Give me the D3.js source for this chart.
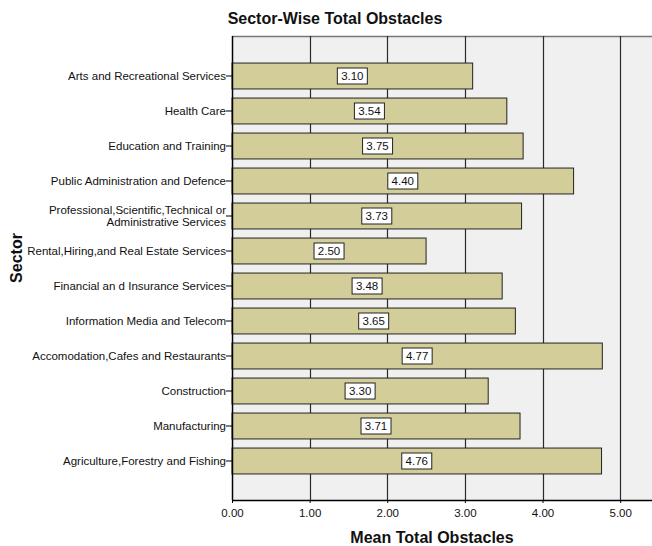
<!DOCTYPE html>
<html>
<head>
<meta charset="utf-8">
<script src="https://cdn.jsdelivr.net/npm/d3@7"></script>
<style>
  body { margin: 0; background: #fff; }
  text { font-family: "Liberation Sans", Arial, sans-serif; }
</style>
</head>
<body>
<div id="container"></div>
<script>
// data
var sectors = [
  "Arts and Recreational Services",
  "Health Care",
  "Education and Training",
  "Public Administration and Defence",
  "Professional,Scientific,Technical or|Administrative Services",
  "Rental,Hiring,and Real Estate Services",
  "Financial an d Insurance Services",
  "Information Media and Telecom",
  "Accomodation,Cafes and Restaurants",
  "Construction",
  "Manufacturing",
  "Agriculture,Forestry and Fishing"
];
var meanObstacles = [3.10, 3.54, 3.75, 4.40, 3.73, 2.50, 3.48, 3.65, 4.77, 3.30, 3.71, 4.76];
var xTicks = [0, 1, 2, 3, 4, 5];

var W = 652, H = 546;
var plot = {left: 232, top: 36, right: 652, bottom: 500};

var svg = d3.select("div#container").append("svg").attr("width", W).attr("height", H);

var x = d3.scaleLinear().domain([0, 5.41]).range([plot.left, plot.right]);
var y = d3.scaleBand().domain(sectors).range([58.5, 478.5]).paddingInner(0.26).paddingOuter(0.13);

// plot background
svg.append("rect")
  .attr("x", plot.left).attr("y", plot.top)
  .attr("width", plot.right - plot.left).attr("height", plot.bottom - plot.top)
  .attr("fill", "#f0f0f0");

// top border
svg.append("line")
  .attr("x1", plot.left).attr("x2", plot.right)
  .attr("y1", plot.top + 0.5).attr("y2", plot.top + 0.5)
  .attr("stroke", "#777").attr("stroke-width", 1.5);

// vertical grid lines
svg.append("g").selectAll("line").data(xTicks.slice(1)).join("line")
  .attr("x1", function(d) { return Math.round(x(d)) + 0.5; })
  .attr("x2", function(d) { return Math.round(x(d)) + 0.5; })
  .attr("y1", plot.top).attr("y2", plot.bottom)
  .attr("stroke", "#2a2a2a").attr("stroke-width", 1.2);

// bars
var bars = svg.append("g").selectAll("g").data(sectors).join("g");
bars.append("rect")
  .attr("x", plot.left)
  .attr("y", function(d) { return y(d); })
  .attr("width", function(d, i) { return x(meanObstacles[i]) - plot.left; })
  .attr("height", y.bandwidth())
  .attr("fill", "#d3ce99")
  .attr("stroke", "#222").attr("stroke-width", 1);

// value labels in white boxes, centred on the bar
bars.each(function(d, i) {
  var g = d3.select(this);
  var cx = (plot.left + x(meanObstacles[i])) / 2;
  var cy = y(d) + y.bandwidth() / 2;
  g.append("rect")
    .attr("x", cx - 15).attr("y", cy - 8)
    .attr("width", 30).attr("height", 16)
    .attr("fill", "#fff").attr("stroke", "#222").attr("stroke-width", 1);
  g.append("text")
    .attr("x", cx).attr("y", cy + 4)
    .attr("text-anchor", "middle")
    .attr("font-size", 11.5).attr("fill", "#111")
    .text(meanObstacles[i].toFixed(2));
});

// x axis
var xAxis = d3.axisBottom(x).tickValues(xTicks).tickFormat(d3.format(".2f")).tickSize(3).tickSizeOuter(0);
var gx = svg.append("g").attr("transform", "translate(0," + plot.bottom + ")").call(xAxis);
gx.select(".domain").attr("stroke", "#000").attr("stroke-width", 1.5);
gx.selectAll(".tick line").attr("stroke", "#000");
gx.selectAll(".tick text").attr("font-size", 11.5).attr("fill", "#111").attr("y", 8).attr("dy", "0.8em")
  .style("font-family", "'Liberation Sans', Arial, sans-serif");

// y axis
var yAxis = d3.axisLeft(y).tickSize(6).tickSizeOuter(0).tickFormat("");
var gy = svg.append("g").attr("transform", "translate(" + plot.left + ",0)").call(yAxis);
gy.select(".domain").attr("d", "M0.5," + plot.top + "V" + plot.bottom).attr("stroke", "#000").attr("stroke-width", 1.5);
gy.selectAll(".tick line").attr("stroke", "#000");
gy.selectAll(".tick").each(function(d) {
  var lines = d.split("|");
  var t = d3.select(this).append("text")
    .attr("x", -6).attr("text-anchor", "end")
    .attr("font-size", 11.5).attr("fill", "#111");
  lines.forEach(function(s, k) {
    t.append("tspan").attr("x", -6).attr("y", (k - (lines.length - 1) / 2) * 12 + 4).text(s);
  });
});

// titles
svg.append("text").attr("x", 335).attr("y", 24).attr("text-anchor", "middle")
  .attr("font-size", 16).attr("font-weight", "bold").attr("fill", "#111")
  .text("Sector-Wise Total Obstacles");
svg.append("text").attr("x", 432).attr("y", 543).attr("text-anchor", "middle")
  .attr("font-size", 16).attr("font-weight", "bold").attr("fill", "#111")
  .text("Mean Total Obstacles");
svg.append("text").attr("transform", "translate(22,258) rotate(-90)").attr("text-anchor", "middle")
  .attr("font-size", 16).attr("font-weight", "bold").attr("fill", "#111")
  .text("Sector");
</script>
</body>
</html>
